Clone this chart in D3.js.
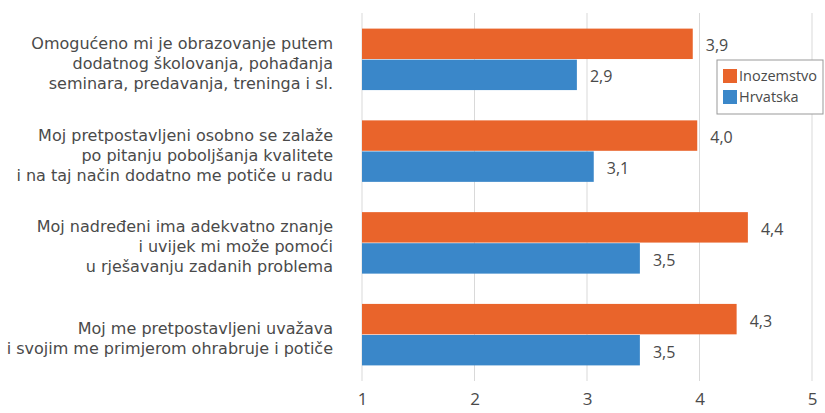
<!DOCTYPE html>
<html>
<head>
<meta charset="utf-8">
<script src="https://cdn.jsdelivr.net/npm/d3@7"></script>
<style>
  body { margin: 0; background: #fff; }
  text { font-family: "Open Sans", sans-serif; }
</style>
</head>
<body>
<div id="chart"></div>
<script>
// pitanja (svaki red je jedna linija teksta)
const categories = [
    ["Omogućeno mi je obrazovanje putem", "dodatnog školovanja, pohađanja", "seminara, predavanja, treninga i sl."],
    ["Moj pretpostavljeni osobno se zalaže", "po pitanju poboljšanja kvalitete", "i na taj način dodatno me potiče u radu"],
    ["Moj nadređeni ima adekvatno znanje", "i uvijek mi može pomoći", "u rješavanju zadanih problema"],
    ["Moj me pretpostavljeni uvažava", "i svojim me primjerom ohrabruje i potiče"]
];
const seriesNames = ["Inozemstvo", "Hrvatska"];
const inozemstvo = [3.94, 3.98, 4.43, 4.33];
const hrvatska = [2.91, 3.06, 3.47, 3.47];
const xTicks = [1, 2, 3, 4, 5];

const width = 825;
const height = 413;
const colors = ["#e9642b", "#3a87c9"];
const textColor = "#4a4a4a";

const svg = d3.select("#chart")
    .append("svg")
    .attr("width", width)
    .attr("height", height);

const x = d3.scaleLinear().domain([1, 5]).range([362, 812]);
const y = d3.scaleBand()
    .domain(d3.range(categories.length))
    .range([13, 381])
    .paddingInner(0.33)
    .paddingOuter(0.17);
const inner = d3.scaleBand()
    .domain([0, 1])
    .range([0, y.bandwidth()])
    .paddingInner(0.02);

// mreža
svg.append("g")
    .selectAll("line")
    .data(xTicks)
    .join("line")
    .attr("x1", d => x(d))
    .attr("x2", d => x(d))
    .attr("y1", 13)
    .attr("y2", 381)
    .attr("stroke", "#d9d9d9")
    .attr("stroke-width", 1);

// os x - oznake
const xAxis = d3.axisBottom(x).tickValues(xTicks).tickFormat(d3.format("d")).tickSize(0).tickPadding(0);
const gx = svg.append("g")
    .attr("transform", "translate(0, 393)")
    .call(xAxis);
gx.select(".domain").remove();
gx.selectAll("text")
    .attr("font-size", 17)
    .attr("fill", textColor)
    .style("font-family", "Open Sans, sans-serif");

// stupci
const groups = svg.append("g")
    .selectAll("g")
    .data(categories.map((c, i) => ({ i, vals: [inozemstvo[i], hrvatska[i]] })))
    .join("g")
    .attr("transform", d => `translate(0, ${y(d.i)})`);

groups.selectAll("rect")
    .data(d => d.vals.map((v, s) => ({ v, s })))
    .join("rect")
    .attr("x", x(1))
    .attr("y", d => inner(d.s))
    .attr("width", d => x(d.v) - x(1))
    .attr("height", inner.bandwidth())
    .attr("fill", d => colors[d.s]);

groups.selectAll("text.val")
    .data(d => d.vals.map((v, s) => ({ v, s })))
    .join("text")
    .attr("class", "val")
    .attr("x", d => x(d.v) + 13)
    .attr("y", d => inner(d.s) + inner.bandwidth() / 2 + 2)
    .attr("dy", "0.35em")
    .attr("font-size", 16)
    .attr("fill", textColor)
    .text(d => d.v.toFixed(1).replace(".", ","));

// nazivi kategorija - svaki red zaseban tekst
const lineH = 20;
svg.append("g")
    .selectAll("g")
    .data(categories.map((c, i) => ({ c, i })))
    .join("g")
    .attr("transform", d => `translate(333, ${y(d.i) + y.bandwidth() / 2 + 4 - (d.c.length - 1) * lineH / 2})`)
    .selectAll("text")
    .data(d => d.c)
    .join("text")
    .attr("text-anchor", "end")
    .attr("y", (d, j) => j * lineH)
    .attr("dy", "0.35em")
    .attr("font-size", 16)
    .attr("fill", textColor)
    .style("font-family", "DejaVu Sans, sans-serif")
    .text(d => d);

// legenda
const legend = svg.append("g").attr("transform", "translate(717, 60)");
legend.append("rect")
    .attr("width", 106)
    .attr("height", 54)
    .attr("fill", "#fff")
    .attr("stroke", "#999")
    .attr("stroke-width", 1);
const li = legend.selectAll("g")
    .data(seriesNames)
    .join("g")
    .attr("transform", (d, i) => `translate(6, ${9 + i * 21})`);
li.append("rect")
    .attr("width", 14)
    .attr("height", 14)
    .attr("fill", (d, i) => colors[i]);
li.append("text")
    .attr("x", 16)
    .attr("y", 7)
    .attr("dy", "0.35em")
    .attr("font-size", 14.5)
    .attr("fill", textColor)
    .text(d => d);
</script>
</body>
</html>
